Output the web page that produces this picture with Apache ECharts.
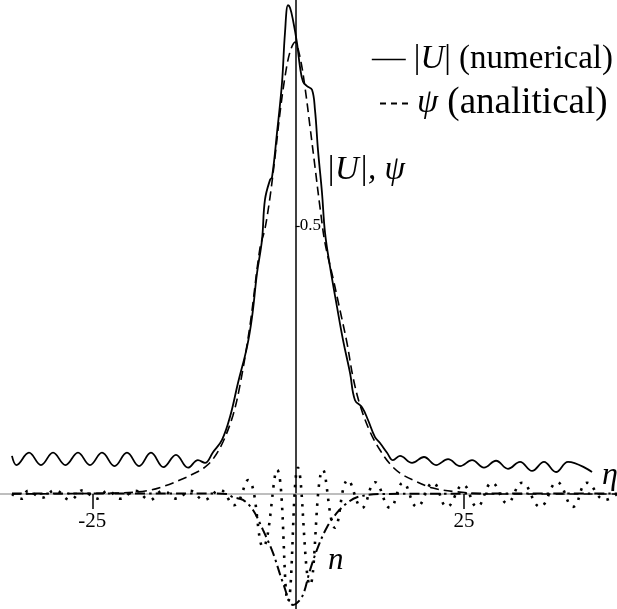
<!DOCTYPE html>
<html><head><meta charset="utf-8">
<script src="https://cdn.jsdelivr.net/npm/echarts@6/dist/echarts.min.js"></script>
<style>html,body{margin:0;padding:0;background:#fff}#c{width:617px;height:609px}</style>
</head><body><div id="c"></div>
<script>
// |U| numerical (solid)
const numericalU = [[-35.81,0.071],[-35.20,0.054],[-33.52,0.077],[-31.91,0.054],[-30.29,0.077],[-28.61,0.054],[-26.93,0.077],[-25.32,0.054],[-23.70,0.077],[-22.02,0.052],[-20.34,0.077],[-18.72,0.052],[-17.11,0.077],[-15.43,0.050],[-13.75,0.073],[-12.13,0.049],[-10.79,0.063],[-9.85,0.058],[-8.77,0.078],[-7.56,0.101],[-6.48,0.144],[-5.41,0.207],[-4.20,0.274],[-3.52,0.330],[-2.85,0.412],[-2.18,0.474],[-1.78,0.549],[-1.10,0.586],[-0.83,0.591],[-0.16,0.674],[0.51,0.767],[0.91,0.860],[1.32,0.912],[1.59,0.907],[1.99,0.884],[2.53,0.841],[2.93,0.797],[3.34,0.769],[3.87,0.761],[4.55,0.754],[4.95,0.716],[5.35,0.642],[5.89,0.562],[6.30,0.487],[6.97,0.424],[7.91,0.349],[8.72,0.287],[9.66,0.226],[10.33,0.175],[11.27,0.162],[12.08,0.138],[13.02,0.106],[13.69,0.095],[14.64,0.077],[15.44,0.063],[16.38,0.071],[18.00,0.058],[19.61,0.069],[21.23,0.054],[22.84,0.065],[24.46,0.052],[26.07,0.063],[27.68,0.049],[29.30,0.062],[30.91,0.047],[32.53,0.060],[34.14,0.043],[35.75,0.060],[37.37,0.041],[38.98,0.060],[42.21,0.041]];
// psi analytical (dashed)
const analyticalPsi = [[-35.81,0],[-21.28,0.002],[-17.65,0.006],[-15.23,0.015],[-13.22,0.026],[-11.19,0.039],[-9.85,0.050],[-8.77,0.065],[-7.43,0.097],[-6.08,0.147],[-5.14,0.203],[-3.79,0.315],[-2.45,0.459],[-1.78,0.495],[-1.10,0.554],[-0.43,0.629],[0.24,0.711],[0.91,0.778],[1.59,0.825],[2.26,0.843],[2.93,0.815],[3.60,0.759],[4.28,0.685],[4.95,0.610],[5.62,0.535],[6.30,0.468],[7.37,0.403],[8.31,0.343],[9.25,0.282],[10.06,0.218],[11.00,0.166],[12.35,0.116],[13.69,0.082],[15.04,0.056],[16.38,0.039],[18.13,0.026],[20.82,0.011],[24.05,0.004],[28.49,0],[45.57,0]];
// n (dash-dot)
const nCurve = [[-35.81,0.001],[-10.52,0.001],[-6.89,0],[-6.08,-0.006],[-4.74,-0.011],[-3.39,-0.030],[-2.05,-0.067],[-0.70,-0.110],[0.65,-0.166],[1.99,-0.207],[3.20,-0.192],[4.28,-0.142],[5.35,-0.099],[6.56,-0.062],[7.91,-0.035],[9.25,-0.017],[10.60,-0.006],[13.69,0],[45.57,0.001]];
// oscillating (dotted)
const dottedCurve = [[-35.81,0],[-34.46,-0.009],[-33.66,0.006],[-31.77,-0.007],[-30.03,0.007],[-28.01,-0.011],[-26.26,0.007],[-24.50,-0.009],[-22.89,0.006],[-21.28,-0.009],[-19.26,0.006],[-17.25,-0.011],[-15.50,0.006],[-13.61,-0.009],[-11.86,0.006],[-9.98,-0.011],[-7.83,0.0075],[-5.95,-0.021],[-4.06,0.026],[-2.04,-0.099],[-0.16,0.045],[1.32,-0.201],[2.66,0.049],[4.28,-0.170],[6.03,0.045],[7.64,-0.063],[9.39,0.026],[11.27,-0.026],[13.02,0.022],[15.04,-0.026],[16.79,0.021],[18.67,-0.024],[20.82,0.021],[22.71,-0.024],[24.86,0.017],[26.74,-0.024],[28.76,0.021],[30.78,-0.017],[32.80,0.021],[35.22,-0.024],[37.51,0.022],[39.67,-0.024],[41.54,0.021],[43.96,-0.011],[45.57,0]];
const xTicks = [-25, 25];
const yTicks = [0.5];

const SERIF = '"Liberation Serif", "Times New Roman", serif';
const chart = echarts.init(document.getElementById('c'), null, {renderer: 'canvas'});
const xMin = -37.42, xMax = 45.57, yMin = -0.2146, yMax = 0.9216;
const yAxisAt = 2.354;
const plotW = 617, plotH = 609;
const yOffset = -(yAxisAt - xMin) / (xMax - xMin) * plotW;
// distance from the bottom of the grid up to the zero line
const zeroLift = (0 - yMin) / (yMax - yMin) * plotH;
const hidden = {color: 'rgba(0,0,0,0)', borderColor: 'rgba(0,0,0,0)', borderWidth: 0};
chart.setOption({
  animation: false,
  backgroundColor: '#fff',
  grid: {left: 0, right: 0, top: 0, bottom: 0, containLabel: false, outerBoundsMode: 'none'},
  xAxis: {
    type: 'value', min: xMin, max: xMax,
    name: 'η', nameLocation: 'end', nameGap: -15,
    nameTextStyle: {fontFamily: SERIF, fontStyle: 'italic', fontSize: 32, color: '#000', align: 'left', verticalAlign: 'bottom', padding: [0, 0, 2, 0]},
    axisLine: {onZero: true, lineStyle: {color: '#a8a8a8', width: 1.5}},
    axisTick: {show: true, customValues: xTicks, length: 15, lineStyle: {color: '#000', width: 1.5}},
    axisLabel: {customValues: xTicks, margin: 17 - zeroLift, fontFamily: SERIF, fontSize: 21, color: '#000'},
    splitLine: {show: false}
  },
  yAxis: {
    type: 'value', min: yMin, max: yMax, position: 'left', offset: yOffset,
    axisLine: {show: true, onZero: false, lineStyle: {color: '#000', width: 1.5}},
    axisTick: {show: true, inside: true, customValues: yTicks, length: 4, lineStyle: {color: '#000', width: 1.2}},
    axisLabel: {inside: true, customValues: yTicks, margin: 4, fontFamily: SERIF, fontSize: 17, color: '#000'},
    splitLine: {show: false}
  },
  legend: [
    {data: ['|U| (numerical)'], left: 366, top: 38, itemWidth: 34, itemHeight: 14, itemGap: 0,
     itemStyle: hidden, lineStyle: {width: 1.6},
     formatter: () => '|{i|U}| (numerical)',
     textStyle: {fontFamily: SERIF, fontSize: 33, color: '#000', padding: [0, 0, 0, 3], rich: {i: {fontFamily: SERIF, fontStyle: 'italic', fontSize: 33, color: '#000'}}}},
    {data: ['ψ (analitical)'], left: 374, top: 80, itemWidth: 30, itemHeight: 14,
     itemStyle: hidden, lineStyle: {type: [6, 5], width: 2},
     formatter: () => '{i|ψ} (analitical)',
     textStyle: {fontFamily: SERIF, fontSize: 37, color: '#000', padding: [0, 0, 0, 2], rich: {i: {fontFamily: SERIF, fontStyle: 'italic', fontSize: 34, color: '#000'}}}}
  ],
  graphic: [
    {type: 'text', left: 326, top: 154, style: {text: '|U|, ψ', font: 'italic 33px ' + SERIF, fill: '#000'}},
    {type: 'text', left: 328, top: 545, style: {text: 'n', font: 'italic 31px ' + SERIF, fill: '#000'}}
  ],
  series: [
    {name: 'dotted', type: 'line', data: dottedCurve, smooth: 0.45, symbol: 'none', silent: true,
     itemStyle: {color: '#000'}, lineStyle: {color: '#000', width: 2.6, type: [2.5, 7]}},
    {name: 'n', type: 'line', data: nCurve, smooth: 0.35, symbol: 'none', silent: true,
     itemStyle: {color: '#000'}, lineStyle: {color: '#000', width: 2, type: [10, 4, 2.5, 4]}},
    {name: 'ψ (analitical)', type: 'line', data: analyticalPsi, smooth: 0.35, symbol: 'none', silent: true,
     itemStyle: {color: '#000'}, lineStyle: {color: '#000', width: 1.6, type: [9, 5]}},
    {name: '|U| (numerical)', type: 'line', data: numericalU, smooth: 0.4, symbol: 'none', silent: true,
     itemStyle: {color: '#000'}, lineStyle: {color: '#000', width: 1.8}}
  ]
});
</script></body></html>
